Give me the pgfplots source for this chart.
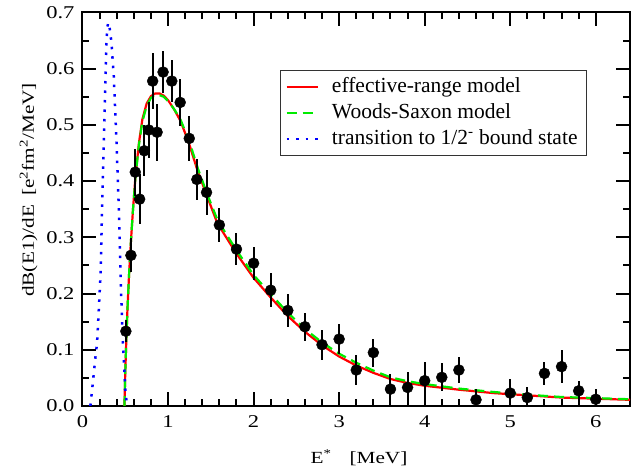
\documentclass[border=0pt]{standalone}
\usepackage{fontspec}
\setmainfont{Liberation Serif}
\newfontfamily\widefont{Liberation Serif}[FakeStretch=1.25]
\usepackage{pgfplots}
\pgfplotsset{compat=1.18}

\definecolor{ergreen}{RGB}{0,235,0}

\pgfplotstableread{
x      y      e
0.507  0.133  0.020
0.566  0.268  0.030
0.617  0.416  0.042
0.668  0.368  0.045
0.723  0.454  0.045
0.774  0.491  0.050
0.820  0.578  0.050
0.872  0.487  0.051
0.942  0.594  0.038
1.044  0.578  0.037
1.142  0.540  0.042
1.248  0.476  0.040
1.337  0.403  0.037
1.450  0.380  0.040
1.600  0.322  0.030
1.800  0.279  0.028
2.000  0.254  0.029
2.200  0.206  0.030
2.400  0.170  0.029
2.600  0.141  0.025
2.800  0.109  0.027
3.000  0.119  0.027
3.200  0.064  0.027
3.400  0.095  0.025
3.600  0.030  0.027
3.800  0.033  0.028
4.000  0.045  0.033
4.200  0.051  0.025
4.400  0.064  0.023
4.600  0.011  0.020
5.000  0.023  0.025
5.200  0.015  0.018
5.400  0.058  0.021
5.600  0.070  0.029
5.800  0.027  0.017
6.000  0.012  0.018
}\exptdata

\begin{document}
\begin{tikzpicture}
\begin{axis}[
  width=547.5pt, height=393.5pt, scale only axis,
  xmin=0, xmax=6.4, ymin=0, ymax=0.7,
  xtick={0,1,2,3,4,5,6},
  ytick={0,0.1,0.2,0.3,0.4,0.5,0.6,0.7},
  minor x tick num=4, minor y tick num=1,
  tick align=inside, tick pos=both,
  major tick length=14pt, minor tick length=7pt,
  every tick/.style={black, line width=2pt},
  axis line style={line width=2pt},
  /pgf/number format/assume math mode=true,
  ticklabel style={font=\widefont\fontsize{18}{18}\selectfont},
  yticklabel style={xshift=-4.5pt, /pgf/number format/.cd, fixed, fixed zerofill, precision=1},
  xticklabel style={yshift=-6pt},
  xlabel={E\textsuperscript{*}\hspace{18pt}[MeV]},
  xlabel style={font=\widefont\fontsize{17}{20}\selectfont,
    at={(axis description cs:0.505,0)}, anchor=base, yshift=-58pt},
  ylabel={dB(E1)/dE\hspace{9pt}[e\textsuperscript{2}fm\textsuperscript{2}/MeV]},
  ylabel style={font=\widefont\fontsize{17}{20}\selectfont,
    at={(axis description cs:-0.0886,0.549)}, anchor=base},
  legend cell align=left,
  legend style={at={(axis description cs:0.3607,0.8539)}, anchor=north west,
    draw=black!80, line width=1pt, inner xsep=5pt, inner ysep=3.5pt,
    font=\fontsize{21.5}{24}\selectfont, column sep=9pt,
    nodes={inner xsep=4pt, inner ysep=2.75pt, text height=15.5pt, text depth=5pt}},
  legend image code/.code={\draw[#1] (0pt,0pt) -- (31pt,0pt);},
]
\addplot[red, line width=2.2pt] coordinates {
(0.49,0)(0.495,0.03)(0.50,0.06)(0.511,0.112)(0.525,0.17)(0.543,0.23)(0.565,0.29)
(0.59,0.349)(0.62,0.41)(0.66,0.468)(0.70,0.51)(0.75,0.538)(0.80,0.551)(0.85,0.556)
(0.90,0.556)(0.95,0.552)(1.00,0.544)(1.07,0.528)(1.146,0.507)(1.243,0.468)
(1.342,0.42)(1.459,0.372)(1.577,0.325)(1.80,0.271)(2.0,0.228)(2.2,0.193)(2.4,0.160)
(2.6,0.132)(2.8,0.108)(3.0,0.088)(3.2,0.072)(3.4,0.059)(3.6,0.048)(3.8,0.041)
(4.0,0.036)(4.4,0.029)(4.8,0.023)(5.2,0.019)(5.6,0.015)(6.0,0.013)(6.4,0.011)
};
\addlegendentry{effective-range model}
\addplot[ergreen, line width=2.2pt, dash pattern=on 10pt off 6pt] coordinates {
(0.49,0)(0.495,0.03)(0.50,0.06)(0.511,0.112)(0.525,0.17)(0.543,0.23)(0.565,0.29)
(0.59,0.349)(0.62,0.408)(0.66,0.465)(0.70,0.506)(0.75,0.534)(0.80,0.548)(0.85,0.553)
(0.90,0.553)(0.95,0.550)(1.01,0.541)(1.08,0.526)(1.15,0.508)(1.25,0.470)(1.35,0.422)
(1.46,0.376)(1.58,0.330)(1.80,0.277)(2.0,0.233)(2.2,0.199)(2.4,0.166)(2.6,0.137)
(2.8,0.113)(3.0,0.093)(3.2,0.077)(3.4,0.063)(3.6,0.051)(3.8,0.044)(4.0,0.039)
(4.4,0.031)(4.8,0.025)(5.2,0.020)(5.6,0.016)(6.0,0.014)(6.4,0.012)
};
\addlegendentry{Woods-Saxon model}
\addplot[blue, line width=2.5pt, dash pattern=on 2.5pt off 7pt] coordinates {
(0.092,0)(0.12,0.04)(0.15,0.085)(0.17,0.112)(0.19,0.17)(0.21,0.23)(0.229,0.349)
(0.249,0.468)(0.268,0.586)(0.28,0.645)(0.29,0.672)(0.30,0.682)(0.31,0.679)
(0.325,0.665)(0.339,0.645)(0.366,0.586)(0.398,0.468)(0.425,0.349)(0.445,0.23)
(0.472,0.112)(0.50,0.03)(0.52,0)
};
\addlegendentry{transition to 1/2\textsuperscript{-} bound state}
\addplot[forget plot, only marks, mark=*, mark size=5.5pt, black,
  error bars/.cd, y dir=both, y explicit, error mark=none,
  error bar style={line width=2pt, black}]
  table[x=x, y=y, y error=e] {\exptdata};
\coordinate (bbsw) at (rel axis cs:0,0);
\coordinate (bbne) at (rel axis cs:1,1);
\end{axis}
\pgfresetboundingbox
\path[use as bounding box] ([xshift=-82.5pt,yshift=-66pt]bbsw) rectangle ([xshift=1pt,yshift=12.5pt]bbne);
\end{tikzpicture}
\end{document}
